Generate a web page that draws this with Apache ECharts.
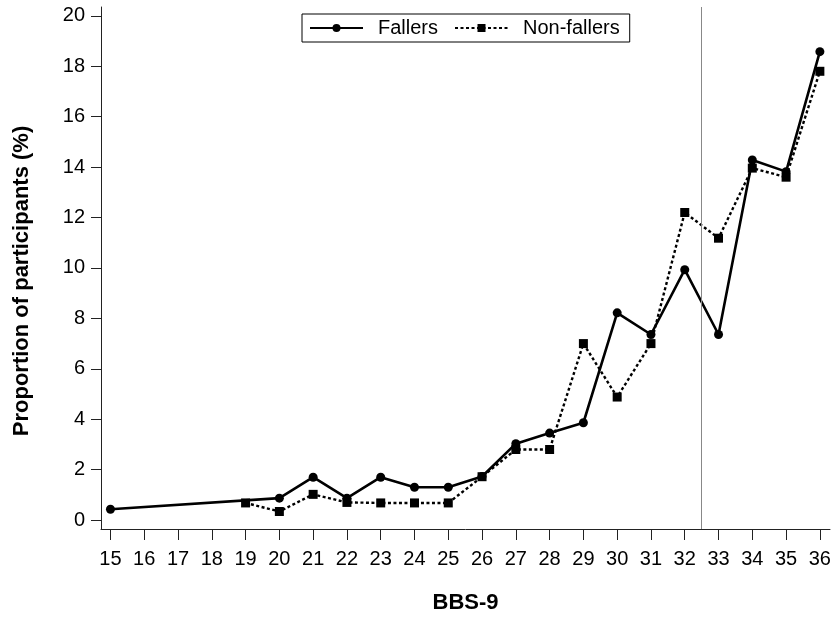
<!DOCTYPE html>
<html>
<head>
<meta charset="utf-8">
<script src="https://cdn.jsdelivr.net/npm/echarts@6/dist/echarts.min.js"></script>
<style>html,body{margin:0;padding:0;background:#fff;}#c{width:837px;height:619px;}</style>
</head>
<body>
<div id="c"></div>
<script>
const bbsScores = [15,16,17,18,19,20,21,22,23,24,25,26,27,28,29,30,31,32,33,34,35,36];
const fallers =    [0.43,null,null,null,null,0.87,1.7,0.87,1.7,1.3,1.3,1.73,3.03,3.45,3.86,8.22,7.36,9.93,7.36,14.28,13.82,18.58];
const nonFallers = [null,null,null,null,0.68,0.34,1.02,0.7,0.68,0.68,0.68,1.72,2.8,2.8,7.0,4.88,7.0,12.2,11.18,13.96,13.6,17.8];
const yTicks = [0,2,4,6,8,10,12,14,16,18,20];
const cutoff = 32.5;

const toPairs = arr => bbsScores.map((x,i)=>[x,arr[i]]).filter(p=>p[1]!==null);
const font = 'Liberation Sans, Arial, sans-serif';
const chart = echarts.init(document.getElementById('c'), null, {renderer:'canvas'});
chart.setOption({
  backgroundColor:'#fff',
  animation:false,
  textStyle:{fontFamily:font,color:'#000'},
  grid:{left:101,right:7,top:7,bottom:86,containLabel:false},
  legend:{
    left:302, top:14,
    itemWidth:53, itemHeight:10, itemGap:16,
    borderColor:'#000', borderWidth:1, padding:[4,10,4,7],
    textStyle:{fontSize:20,color:'#000',fontFamily:font,padding:[0,0,0,10]},
    data:['Fallers','Non-fallers']
  },
  xAxis:{
    type:'value', min:14.72, max:36.3,
    name:'BBS-9', nameLocation:'middle', nameGap:63,
    nameTextStyle:{fontSize:22,fontWeight:'bold',color:'#000',fontFamily:font},
    axisLine:{onZero:false,lineStyle:{color:'#222',width:1}},
    axisTick:{show:true,length:11,customValues:bbsScores,lineStyle:{color:'#222'}},
    axisLabel:{customValues:bbsScores,fontSize:20,color:'#000',margin:20,fontFamily:font},
    splitLine:{show:false}
  },
  yAxis:{
    type:'value', min:-0.354, max:20.35,
    name:'Proportion of participants (%)', nameLocation:'middle', nameGap:68, nameRotate:90,
    nameTextStyle:{fontSize:22,fontWeight:'bold',color:'#000',fontFamily:font,padding:[0,26,0,0]},
    axisLine:{show:true,onZero:false,lineStyle:{color:'#222',width:1}},
    axisTick:{show:true,length:10,customValues:yTicks,lineStyle:{color:'#222'}},
    axisLabel:{customValues:yTicks,fontSize:20,color:'#000',margin:16,fontFamily:font},
    splitLine:{show:false}
  },
  series:[
    {
      name:'Fallers', type:'line', data:toPairs(fallers),
      symbol:'circle', symbolSize:9,
      lineStyle:{color:'#000',width:2.6,type:'solid'},
      itemStyle:{color:'#000'},
      markLine:{
        silent:true, symbol:'none', label:{show:false},
        lineStyle:{color:'#888',width:1,type:'solid'},
        data:[{xAxis:cutoff}]
      },
      z:3
    },
    {
      name:'Non-fallers', type:'line', data:toPairs(nonFallers),
      symbol:'rect', symbolSize:9,
      lineStyle:{color:'#000',width:2.4,type:[3,2.5]},
      itemStyle:{color:'#000'},
      z:2
    }
  ]
});
</script>
</body>
</html>
